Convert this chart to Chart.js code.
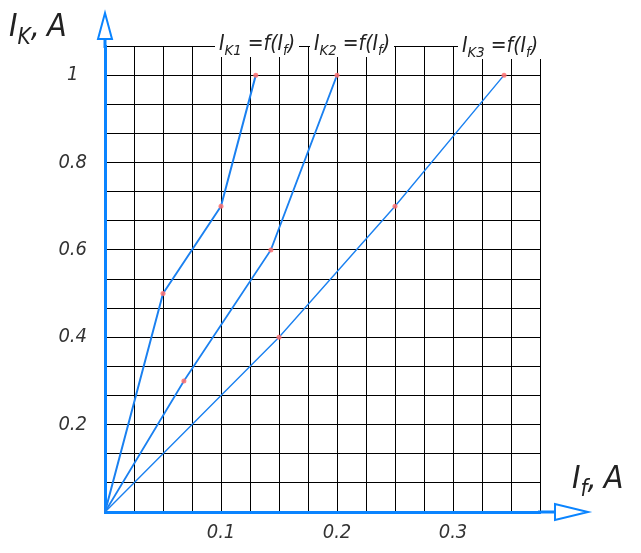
<!DOCTYPE html>
<html>
<head>
<meta charset="utf-8">
<script src="https://cdn.jsdelivr.net/npm/chart.js@4.4.0/dist/chart.umd.min.js"></script>
<style>
  body { margin: 0; background: #fff; }
  #wrap { position: relative; width: 641px; height: 553px; }
  .txt { position: absolute; font-family: "Liberation Sans Narrow", "DejaVu Sans Condensed", sans-serif; font-style: italic; color: #222; white-space: nowrap; }
  .txt sub { font-size: 70%; vertical-align: -0.35em; line-height: 0; }
  .curve { font-size: 21px; background: #fff; padding: 2px 4px; line-height: 24px; }
  .axis { font-size: 32px; line-height: 36px; word-spacing: -2px; }
</style>
</head>
<body>
<div id="wrap">
  <canvas id="chart" width="641" height="553"></canvas>
  <div class="txt axis" style="left:9px;top:7px">I<sub>K</sub>, A</div>
  <div class="txt axis" style="left:572px;top:459px">I<sub>f</sub>, A</div>
  <div class="txt curve" style="left:215px;top:29px">I<sub>K1</sub> =f(I<sub>f</sub>)</div>
  <div class="txt curve" style="left:310px;top:29px">I<sub>K2</sub> =f(I<sub>f</sub>)</div>
  <div class="txt curve" style="left:458px;top:31px">I<sub>K3</sub> =f(I<sub>f</sub>)</div>
</div>
<script>
// If, A  ->  Ik, A  for the three curves
const ik1If = [0, 0.05, 0.1, 0.13];
const ik1 = [0, 0.5, 0.7, 1.0];
const ik2If = [0, 0.068, 0.143, 0.2];
const ik2 = [0, 0.3, 0.6, 1.0];
const ik3If = [0, 0.15, 0.25, 0.344];
const ik3 = [0, 0.4, 0.7, 1.0];

const xTickLabels = [0.1, 0.2, 0.3];
const yTickLabels = [0.2, 0.4, 0.6, 0.8, 1];
const xGridStep = 0.025;
const yGridStep = 1 / 15;

const axisBlue = "#0a84ff";
const lineBlue = "#1a80f0";
const dotRed = "rgba(255, 110, 110, 0.85)";
const tickFont = { family: "'Liberation Sans Narrow', 'DejaVu Sans Condensed', sans-serif", size: 20, style: "italic" };

function toPoints(xs, ys) {
  return xs.map((x, i) => ({ x: x, y: ys[i] }));
}

function gridValues(n, step) {
  const out = [];
  for (let i = 0; i <= n; i++) out.push({ value: i * step });
  return out;
}

function labelFor(v, labels) {
  const hit = labels.find(l => Math.abs(l - v) < 1e-6);
  return hit === undefined ? "" : String(hit);
}

function curve(xs, ys, width) {
  return {
    data: toPoints(xs, ys),
    showLine: true,
    borderColor: lineBlue,
    borderWidth: width,
    pointRadius: c => (c.dataIndex === 0 ? 0 : 2.5),
    pointBackgroundColor: dotRed,
    pointBorderWidth: 0,
    clip: false
  };
}

const axisArrows = {
  id: "axisArrows",
  afterDraw(chart) {
    const { ctx, chartArea: a } = chart;
    ctx.save();
    ctx.strokeStyle = axisBlue;
    ctx.lineWidth = 3;
    ctx.beginPath();
    ctx.moveTo(a.left, a.top + 2);
    ctx.lineTo(a.left, a.top - 7);
    ctx.moveTo(a.right - 2, a.bottom);
    ctx.lineTo(a.right + 15, a.bottom);
    ctx.stroke();
    ctx.lineWidth = 2;
    ctx.beginPath();
    ctx.moveTo(a.left - 7, a.top - 7);
    ctx.lineTo(a.left + 7, a.top - 7);
    ctx.lineTo(a.left, a.top - 33);
    ctx.closePath();
    ctx.moveTo(a.right + 15, a.bottom - 8);
    ctx.lineTo(a.right + 15, a.bottom + 8);
    ctx.lineTo(a.right + 48, a.bottom);
    ctx.closePath();
    ctx.stroke();
    ctx.restore();
  }
};

new Chart(document.getElementById("chart"), {
  type: "scatter",
  data: {
    datasets: [
      curve(ik1If, ik1, 2),
      curve(ik2If, ik2, 1.8),
      curve(ik3If, ik3, 1.4)
    ]
  },
  options: {
    responsive: false,
    devicePixelRatio: 1,
    animation: false,
    layout: { padding: { top: 46, right: 101, left: 0, bottom: 0 } },
    plugins: { legend: { display: false }, tooltip: { enabled: false } },
    scales: {
      x: {
        type: "linear",
        min: 0,
        max: 15 * xGridStep,
        afterBuildTicks: s => { s.ticks = gridValues(15, xGridStep); },
        afterFit: s => { s.height = 41; },
        grid: { color: "#000", lineWidth: 1, drawTicks: false },
        border: { color: axisBlue, width: 3 },
        ticks: {
          padding: 9,
          font: tickFont,
          color: "#333",
          autoSkip: false,
          maxRotation: 0,
          callback: v => labelFor(v, xTickLabels)
        }
      },
      y: {
        type: "linear",
        min: 0,
        max: 16 * yGridStep,
        afterBuildTicks: s => { s.ticks = gridValues(16, yGridStep); },
        afterFit: s => { s.width = 105; },
        grid: { color: "#000", lineWidth: 1, drawTicks: false },
        border: { color: axisBlue, width: 3 },
        ticks: {
          padding: 18,
          crossAlign: "center",
          font: tickFont,
          color: "#333",
          autoSkip: false,
          callback: v => labelFor(v, yTickLabels)
        }
      }
    }
  },
  plugins: [axisArrows]
});
</script>
</body>
</html>
